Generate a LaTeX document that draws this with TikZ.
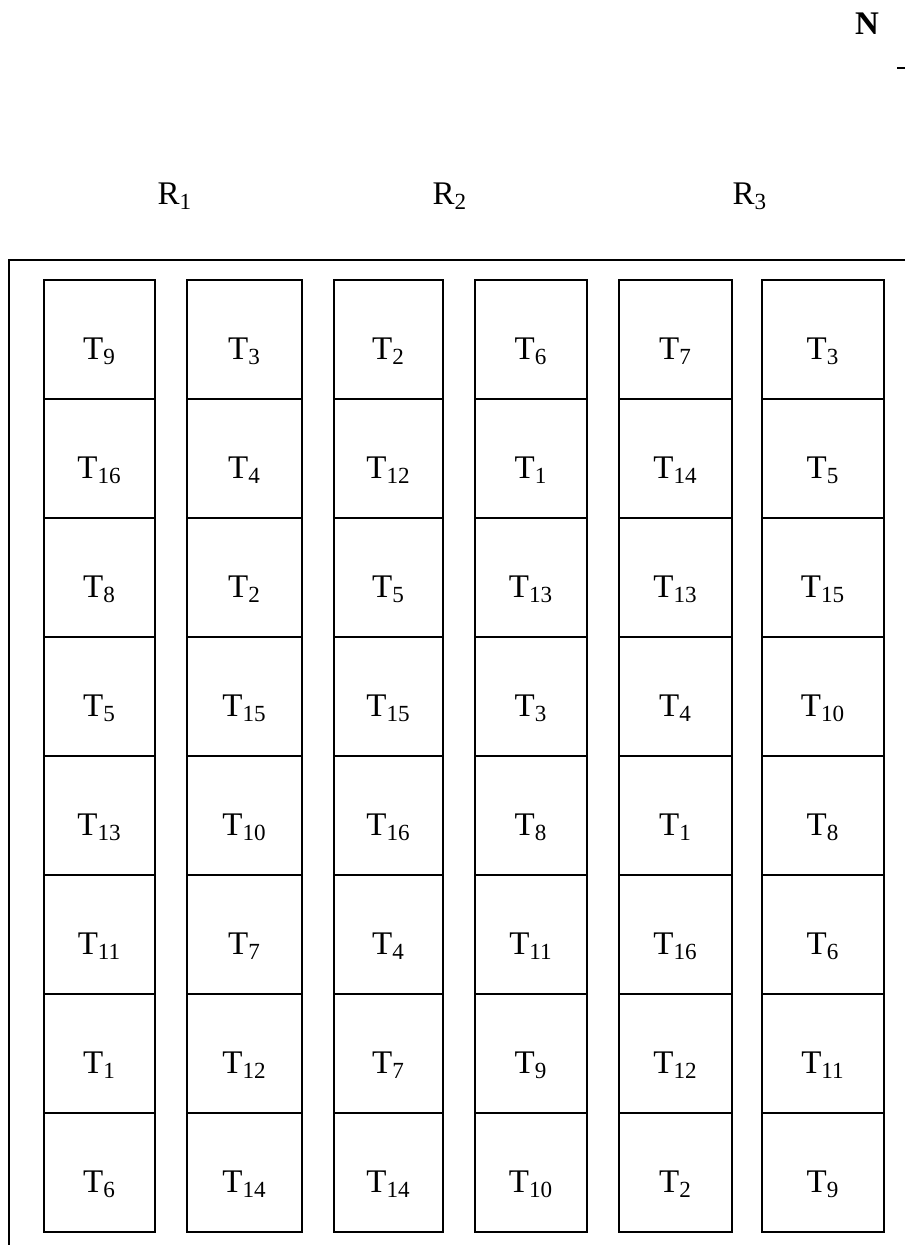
\documentclass[tikz,border=0pt]{standalone}
\usepackage{fontspec}
\setmainfont{Liberation Serif}
\begin{document}
\begin{tikzpicture}[x=0.5pt, y=-0.5pt]
% Layout of the plots, in pixel units of the scan
\def\rowtop{280}
\def\rowh{119}
\providecommand{\plotLineWidth}{0.8pt}
\providecommand{\frameLineWidth}{1.2pt}
\providecommand{\plotFont}{\fontsize{16.5}{20}\selectfont}
\tikzset{
  plotbox/.style={draw, line width=\plotLineWidth, inner sep=0pt,
    minimum height=\rowh*0.5pt, text height=20pt, text depth=0pt,
    font=\plotFont},
  replabel/.style={inner sep=0pt, font=\plotFont}
}
\useasboundingbox (0,0) rectangle (905,1245);
% North sign
\node[replabel, font=\plotFont\bfseries] (north) at (867,24) {N};
\draw[line width=1pt] (897,68) -- (905,68);
% Replicate labels
\node[replabel] (r1) at (175,196) {R\textsubscript{1}};
\node[replabel] (r2) at (450,196) {R\textsubscript{2}};
\node[replabel] (r3) at (750,196) {R\textsubscript{3}};
% Field outline
\draw[line width=\frameLineWidth] (905,260) -- (9,260) -- (9,1245);
% Plots, one column at a time: number/left/right/treatments
\foreach \col/\xl/\xr/\treats in {
    1/44/155/{9,16,8,5,13,11,1,6},
    2/187/302/{3,4,2,15,10,7,12,14},
    3/334/443/{2,12,5,15,16,4,7,14},
    4/475/587/{6,1,13,3,8,11,9,10},
    5/619/732/{7,14,13,4,1,16,12,2},
    6/762/884/{3,5,15,10,8,6,11,9}} {
  \foreach \t [count=\row] in \treats {
    \node[plotbox, minimum width={(\xr-\xl)*0.5pt}] (t\col-\row)
      at ({(\xl+\xr)/2}, {\rowtop+(\row-0.5)*\rowh}) {T\textsubscript{\t}};
  }
}
\end{tikzpicture}
\end{document}
